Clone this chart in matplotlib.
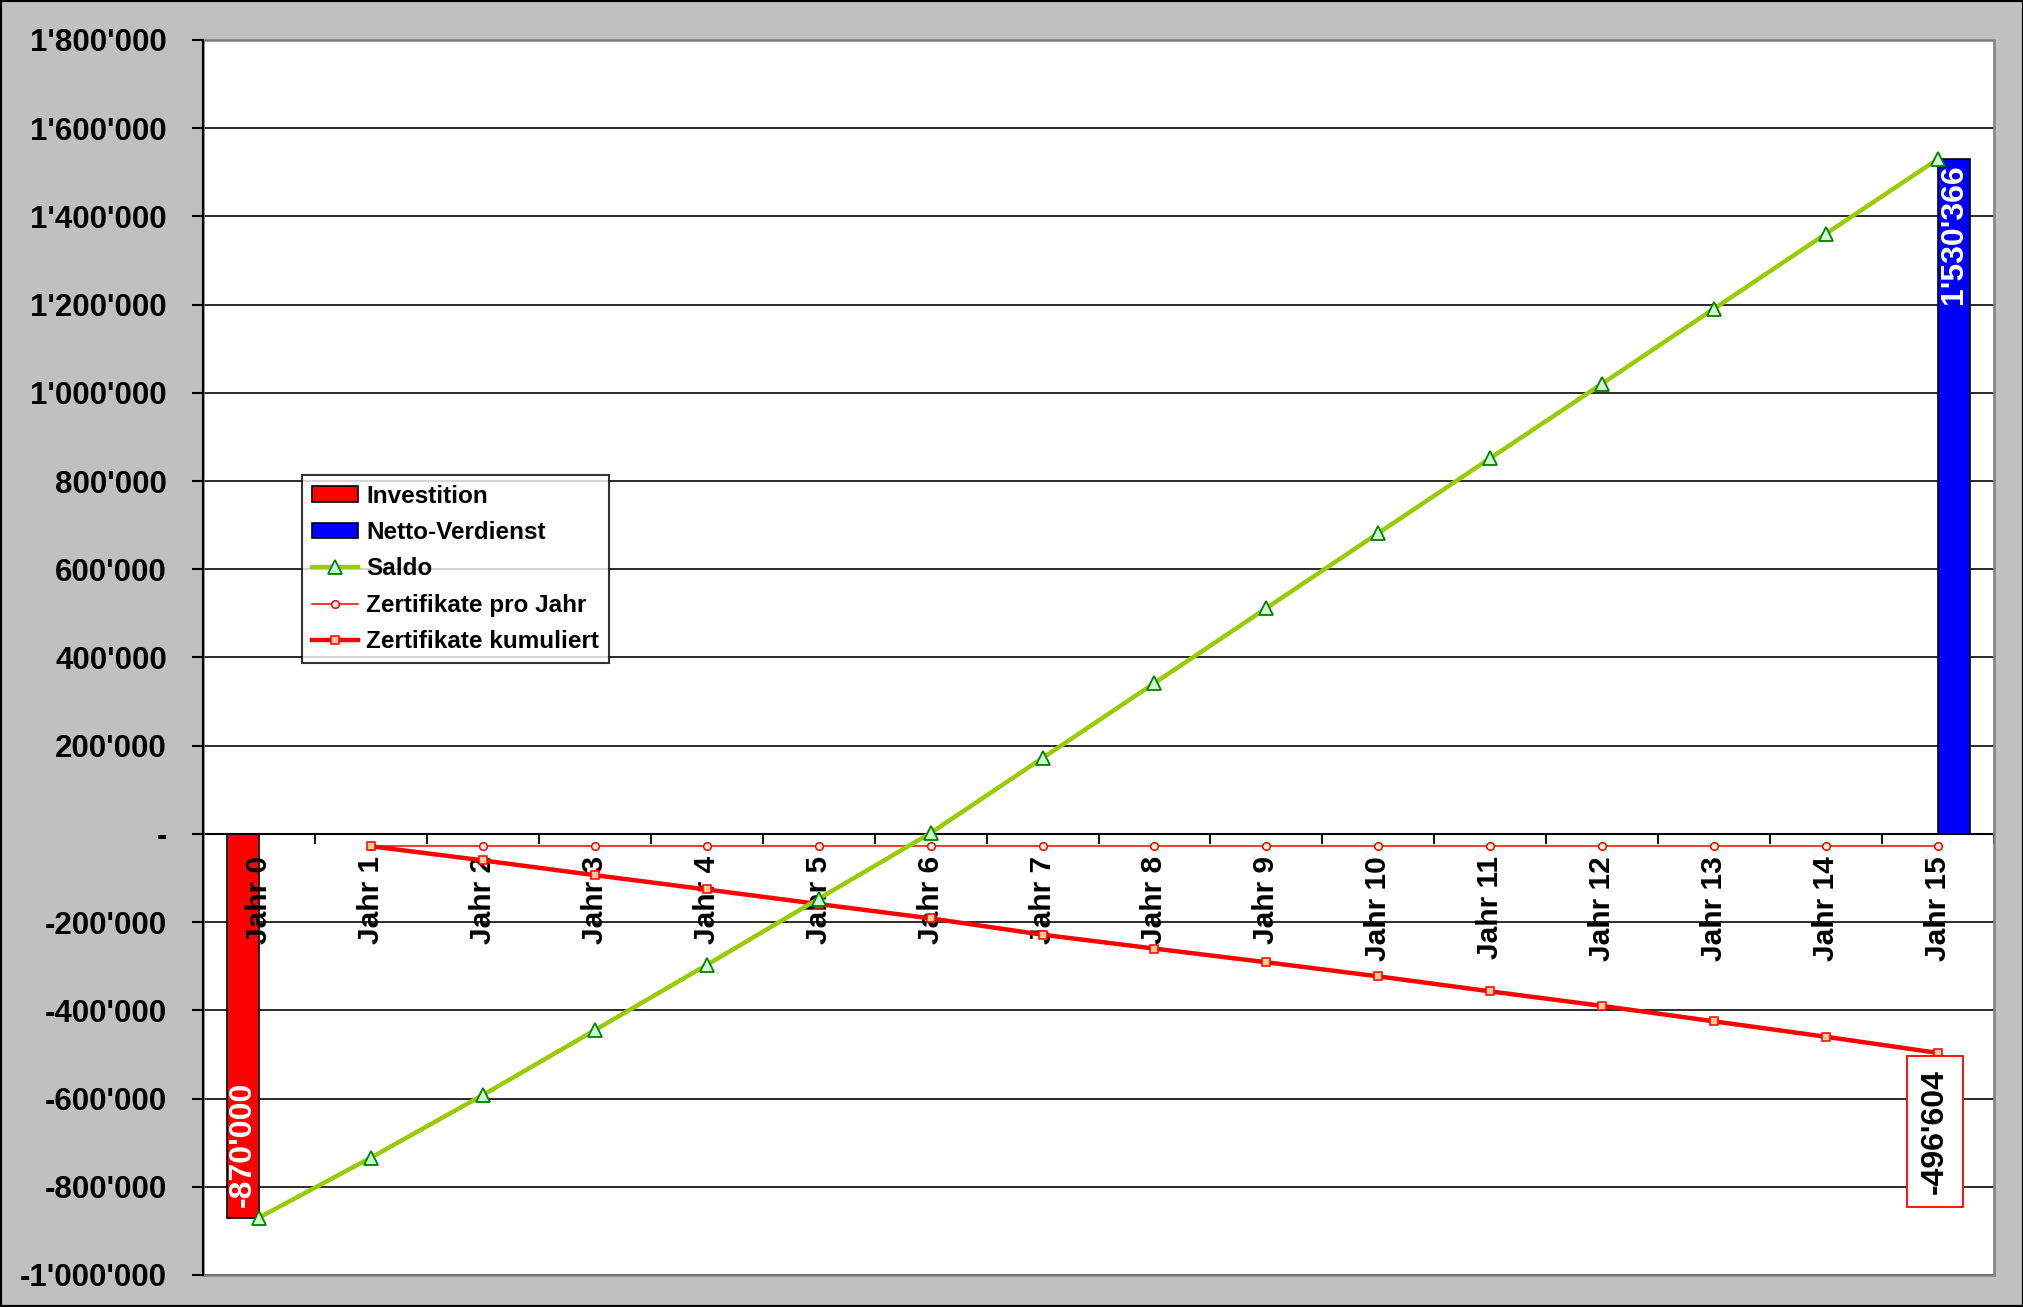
import matplotlib
matplotlib.use("Agg")
import matplotlib.pyplot as plt
from matplotlib.patches import Rectangle
from matplotlib.ticker import FuncFormatter, FixedLocator
import numpy as np

plt.rcParams['font.family'] = ['Liberation Sans', 'DejaVu Sans']
plt.rcParams['font.weight'] = 'bold'

# ---- data ----
categories = [f"Jahr {i}" for i in range(16)]
investition = [-870000] + [0] * 15
netto_verdienst = [0] * 15 + [1530366]
saldo = [-870000, -734000, -592000, -445000, -297000, -147000, 2000, 172000,
         342000, 512000, 682000, 852000, 1021000, 1191000, 1361000, 1530366]
zert_pro_jahr = [None] + [-27000] * 15
zert_kumuliert = [None, -28000, -60000, -93500, -126000, -159000, -191500, -228500,
                  -260000, -291000, -323000, -357000, -390000, -425000, -460000, -496604]
y_ticks = list(range(-1000000, 1800001, 200000))


def fmt(v):
    if v == 0:
        return "-"
    return f"{v:,.0f}".replace(",", "'")


fig = plt.figure(figsize=(20.24, 13.07), dpi=100)
fig.patch.set_facecolor('#C0C0C0')
ax = fig.add_axes([0.1003, 0.0245, 0.8849, 0.9449])
ax.set_facecolor('white')
ax.set_axisbelow(False)

x = np.arange(len(categories))
bw = 0.285

# gridlines
for t in y_ticks:
    ax.axhline(t, color='#1a1a1a', lw=1.3, zorder=1)

inv_idx = [i for i, v in enumerate(investition) if v != 0]
net_idx = [i for i, v in enumerate(netto_verdienst) if v != 0]
h_inv = ax.bar(x[inv_idx] - bw / 2, [investition[i] for i in inv_idx], width=bw, color='#FF0000',
               edgecolor='black', lw=1.2, zorder=2, label='Investition')
h_net = ax.bar(x[net_idx] + bw / 2, [netto_verdienst[i] for i in net_idx], width=bw, color='#0000FF',
               edgecolor='black', lw=1.2, zorder=2, label='Netto-Verdienst')

h_sal, = ax.plot(x, saldo, color='#99CC00', lw=3.2, marker='^', markersize=10,
                 markerfacecolor='#CCFFCC', markeredgecolor='#008000', markeredgewidth=1.3,
                 zorder=4, label='Saldo')
pj = np.array([np.nan if v is None else v for v in zert_pro_jahr], dtype=float)
h_pj, = ax.plot(x, pj, color='#FF0000', lw=1.1, marker='o', markersize=5.5,
                markerfacecolor='#FFE8E0', markeredgecolor='#FF0000', markeredgewidth=1.1,
                zorder=3, label='Zertifikate pro Jahr')
kj = np.array([np.nan if v is None else v for v in zert_kumuliert], dtype=float)
h_kj, = ax.plot(x, kj, color='#FF0000', lw=3.2, marker='s', markersize=5.5,
                markerfacecolor='#FFCC99', markeredgecolor='#FF0000', markeredgewidth=1.1,
                zorder=3, label='Zertifikate kumuliert')

ax.set_xlim(-0.5, 15.5)
ax.set_ylim(-1000000, 1800000)

# y axis
ax.yaxis.set_major_locator(FixedLocator(y_ticks))
ax.yaxis.set_major_formatter(FuncFormatter(lambda v, p: fmt(int(round(v)))))
ax.tick_params(axis='y', direction='out', length=8, width=1.5, pad=18,
               labelsize=22.5, colors='black')
for lab in ax.get_yticklabels():
    lab.set_fontweight('bold')

# x axis at zero
ax.spines['bottom'].set_position(('data', 0))
ax.spines['bottom'].set_linewidth(1.5)
ax.spines['bottom'].set_color('black')
ax.spines['left'].set_linewidth(1.5)
ax.spines['left'].set_color('black')
ax.spines['top'].set_visible(False)
ax.spines['right'].set_visible(False)
ax.set_xticks(np.arange(-0.5, 16, 1.0))
ax.set_xticklabels([])
ax.tick_params(axis='x', which='major', direction='out', length=7.5, width=1.3, colors='black')
ax.set_xticks(x, minor=True)
ax.set_xticklabels(categories, minor=True, rotation=90, fontsize=21.5, fontweight='bold')
ax.tick_params(axis='x', which='minor', length=0, pad=16)

# plot area border
ax.add_patch(Rectangle((0, 0), 1, 1, transform=ax.transAxes, fill=False,
                       edgecolor='#808080', lw=1.8, zorder=5, clip_on=False))
ax.plot([0, 0], [0, 1], transform=ax.transAxes, color='black', lw=1.5, zorder=6, clip_on=False)

# data labels
ax.annotate(fmt(investition[inv_idx[0]]), xy=(x[inv_idx[0]] - bw / 2, investition[inv_idx[0]]),
            xytext=(0, 11), textcoords='offset pixels', rotation=90, ha='center', va='bottom',
            color='white', fontsize=23, fontweight='bold', zorder=7)
ax.annotate(fmt(netto_verdienst[net_idx[0]]), xy=(x[net_idx[0]] + bw / 2, netto_verdienst[net_idx[0]]),
            xytext=(0, -5), textcoords='offset pixels', rotation=90, ha='center', va='top',
            color='white', fontsize=23, fontweight='bold', zorder=7)
ax.annotate(fmt(zert_kumuliert[-1]), xy=(x[-1], zert_kumuliert[-1]),
            xytext=(-3, -16), textcoords='offset pixels', rotation=90, ha='center', va='top',
            color='black', fontsize=23, fontweight='bold', zorder=7,
            bbox=dict(boxstyle='square,pad=0.42', facecolor='white', edgecolor='#FF0000', lw=1.3))

leg = ax.legend(handles=[h_inv, h_net, h_sal, h_pj, h_kj],
                loc='upper left', bbox_to_anchor=(0.0553, 0.6478), frameon=True, fancybox=False,
                shadow=False, prop={'size': 17.5, 'weight': 'bold'}, handlelength=1.9,
                handleheight=0.6, handletextpad=0.35, borderpad=0.4, labelspacing=0.55,
                borderaxespad=0)
leg.get_frame().set_edgecolor('black')
leg.get_frame().set_linewidth(1.5)
leg.set_zorder(10)

fig.add_artist(Rectangle((0, 0), 1, 1, transform=fig.transFigure, fill=False,
                         edgecolor='black', lw=3))

fig.savefig('out.png', dpi=100, facecolor=fig.get_facecolor())
